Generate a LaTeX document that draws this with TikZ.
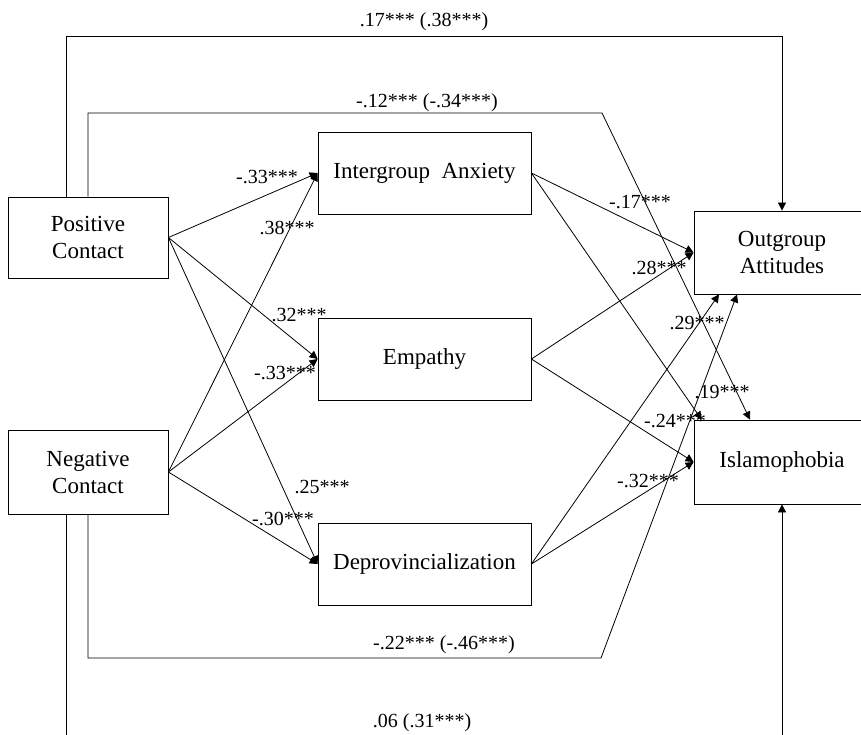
\documentclass[tikz,border=0pt]{standalone}
\usepackage{fontspec}
\setmainfont{Liberation Serif}
\usetikzlibrary{arrows.meta}
\tikzset{var/.style={draw,line width=0.8pt,minimum width=213pt,minimum height=82pt,inner sep=0pt,align=center,font=\fontsize{23}{27}\selectfont},
eff/.style={-{Triangle[length=8pt,width=8pt]},line width=0.8pt},
coef/.style={inner sep=0pt,font=\fontsize{20}{24}\selectfont}}
\begin{document}
\begin{tikzpicture}[x=1pt,y=-1pt]
\useasboundingbox (0,0) rectangle (861,735);

\node[var,minimum width=160pt,minimum height=81pt] (pos) at (88,237.5) {Positive\\Contact};
\node[var,minimum width=160pt,minimum height=84pt] (neg) at (88,472) {Negative\\Contact};
\node[var] (anx) at (424.5,173) {Intergroup\ \ Anxiety};
\node[var] (emp) at (424.5,359) {Empathy};
\node[var] (dep) at (424.5,564) {Deprovincialization};
\node[var,minimum width=176pt,minimum height=83pt] (att) at (782,252.5) {Outgroup\\Attitudes};
\node[var,minimum width=176pt,minimum height=84pt] (isl) at (782,462) {Islamophobia};

\foreach \a/\b in {pos/anx,neg/anx,pos/emp,neg/emp,pos/dep,neg/dep,anx/att,emp/att,emp/isl,dep/isl}{ \draw[eff] (\a.east) -- (\b.west);}
\draw[eff] (anx.east) -- ([xshift=8pt]isl.north west);
\draw[eff] (dep.east) -- ([xshift=-63pt]att.south);

\coordinate (top1) at (66,36);
\coordinate (top2) at (88,113);
\coordinate (bend2) at (602,113);
\coordinate (bot1) at (88,658);
\coordinate (bend1) at (601,658);
\coordinate (bot2) at (66,750);
\draw[eff] (pos.north -| top1) -- (top1) -| (att.north);
\draw[eff] (pos.north) -- (top2) -- (bend2) -- ([xshift=-32pt]isl.north);
\draw[eff] (neg.south) -- (bot1) -- (bend1) -- ([xshift=-45pt]att.south);
\draw[eff] (neg.south -| bot2) -- (bot2) -| (isl.south);

\foreach \i/\x/\y/\t in {1/267/177/{-.33***},2/287/228/{.38***},3/299/315/{.32***},4/285/373/{-.33***},5/322/487/{.25***},6/283/519/{-.30***},7/640/202/{-.17***},8/659/268/{.28***},9/697/323/{.29***},10/722/392/{.19***},11/675/421/{-.24***},12/648/481/{-.32***},13/424/22/{.17*** (.38***)},14/427/103/{-.12*** (-.34***)},15/444/645/{-.22*** (-.46***)},16/422/723/{.06 (.31***)}}{ \node[coef] (c\i) at (\x,\y){\t};}

\end{tikzpicture}
\end{document}
